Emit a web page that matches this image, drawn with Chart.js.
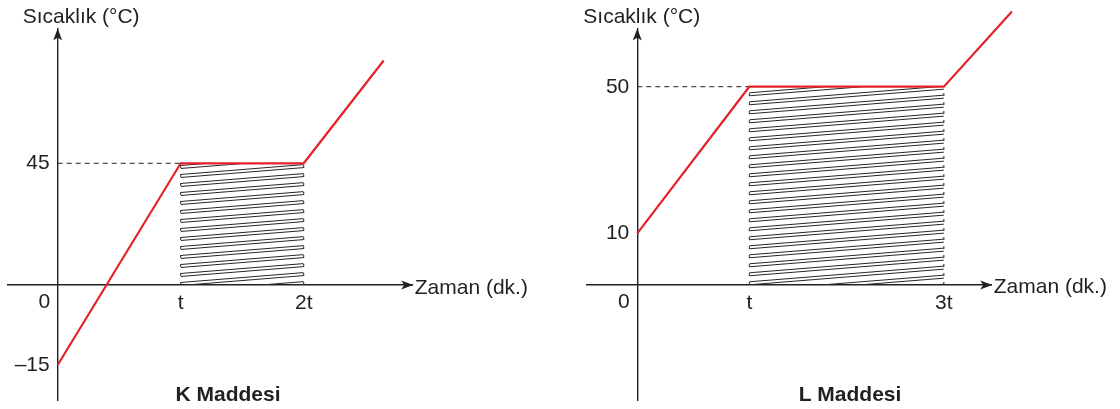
<!DOCTYPE html>
<html>
<head>
<meta charset="utf-8">
<script src="https://cdn.jsdelivr.net/npm/chart.js@4.4.1/dist/chart.umd.min.js"></script>
<style>
  html, body { margin: 0; padding: 0; background: #ffffff; }
  #wrap { position: relative; width: 1120px; height: 409px; overflow: hidden; }
  .cell { position: absolute; top: 0; width: 560px; height: 409px; }
</style>
</head>
<body>
<div id="wrap">
  <div class="cell" style="left:0"><canvas id="chartK" width="560" height="409"></canvas></div>
  <div class="cell" style="left:560px"><canvas id="chartL" width="560" height="409"></canvas></div>
</div>
<script>
// ================================================================
//  DATA  (time in units of t, temperature in °C)
// ================================================================
const kTime = [0, 1, 2, 2.65];
const kTemp = [-15, 45, 45, 83];
const kXTicks = [1, 2];
const kXLabels = ['t', '2t'];
const kYTicks = [-15, 45];
const kYLabels = ['–15', '45'];
const kPlateau = [1, 2];        // hatched interval (start, end)
const kPlateauTemp = 45;

const lTime = [0, 1, 3, 3.7];
const lTemp = [10, 50, 50, 70.5];
const lXTicks = [1, 3];
const lXLabels = ['t', '3t'];
const lYTicks = [10, 50];
const lYLabels = ['10', '50'];
const lPlateau = [1, 3];
const lPlateauTemp = 50;

// ================================================================
//  STYLE
// ================================================================
const INK = '#231f20';
const RED = '#e5222a';
const HATCH = '#262626';
const FONT = "'Liberation Sans', Arial, Helvetica, sans-serif";
const FS = 21;

Chart.defaults.font.family = FONT;
Chart.defaults.font.size = FS;
Chart.defaults.color = INK;

// ----------------------------------------------------------------
//  Linear scale with a piecewise (schematic) mapping: knots map a
//  data value to a linear "drawing" unit, min/max are in that unit
// ----------------------------------------------------------------
class BrokenScale extends Chart.LinearScale {
  static id = 'broken';
  static defaults = {};

  toLin(v) {
    const k = this.options.knots;
    let i = 0;
    while (i < k.length - 2 && v > k[i + 1][0]) i++;
    const a = k[i], b = k[i + 1];
    return a[1] + (v - a[0]) * (b[1] - a[1]) / (b[0] - a[0]);
  }
  fromLin(p) {
    const k = this.options.knots;
    let i = 0;
    while (i < k.length - 2 && p > k[i + 1][1]) i++;
    const a = k[i], b = k[i + 1];
    return a[0] + (p - a[1]) * (b[0] - a[0]) / (b[1] - a[1]);
  }
  getPixelForValue(v) {
    if (v === null || v === undefined || isNaN(v)) return NaN;
    return this.getPixelForDecimal((this.toLin(v) - this._startValue) / this._valueRange);
  }
  getValueForPixel(px) {
    return this.fromLin(this._startValue + this.getDecimalForPixel(px) * this._valueRange);
  }
  // centred axes ignore ticks.padding, so nudge the labels here
  _computeLabelItems(chartArea) {
    const items = super._computeLabelItems(chartArea);
    const [dx, dy] = this.options.labelShift || [0, 0];
    items.forEach(it => {
      const t = it.options.translation;
      it.options.translation = [t[0] + dx, t[1] + dy];
    });
    return items;
  }
}
Chart.register(BrokenScale);

function noPadding(s) {
  s.paddingTop = s.paddingBottom = s.paddingLeft = s.paddingRight = 0;
}

function hatchPattern() {
  const W = 112, D = 9;
  const s = D / W;
  const c = document.createElement('canvas');
  c.width = W; c.height = D;
  const g = c.getContext('2d');
  g.strokeStyle = HATCH;
  g.lineWidth = 1;
  [0, 3].forEach(off => {
    for (let k = -1; k <= 2; k++) {
      const y0 = off + k * D;
      g.beginPath();
      g.moveTo(-1, y0 + s);
      g.lineTo(W + 1, y0 - D - s);
      g.stroke();
    }
  });
  return g.createPattern(c, 'repeat');
}

function arrowHead(ctx, x, y, dir) {
  // dir: 'right' or 'up'; tip at (x, y)
  const L = 12, H = 4.5, N = 3;
  ctx.save();
  ctx.translate(x, y);
  if (dir === 'up') ctx.rotate(-Math.PI / 2);
  ctx.beginPath();
  ctx.moveTo(0, 0);
  ctx.lineTo(-L, -H);
  ctx.lineTo(-L + N, 0);
  ctx.lineTo(-L, H);
  ctx.closePath();
  ctx.fillStyle = INK;
  ctx.fill();
  ctx.restore();
}

const decorPlugin = {
  id: 'decor',
  afterDraw(chart, args, opts) {
    const { ctx, chartArea } = chart;
    const xs = chart.scales.x, ys = chart.scales.y;
    const ox = xs.getPixelForValue(0);
    const oy = ys.getPixelForValue(0);

    arrowHead(ctx, chartArea.right + 0.5, oy, 'right');
    arrowHead(ctx, ox, chartArea.top - 0.5, 'up');

    ctx.save();
    ctx.fillStyle = INK;
    ctx.font = FS + 'px ' + FONT;
    ctx.textBaseline = 'alphabetic';

    // shared origin label
    ctx.textAlign = 'right';
    ctx.fillText('0', ox - 7.5, oy + 23);

    // axis titles
    ctx.textAlign = 'left';
    ctx.fillText('Zaman (dk.)', chartArea.right + 2, oy + 8.5);
    ctx.fillText('Sıcaklık (°C)', opts.yTitleX, 23);

    // panel caption
    ctx.font = 'bold ' + FS + 'px ' + FONT;
    ctx.textAlign = 'center';
    ctx.fillText(opts.caption, opts.captionX, 401);
    ctx.restore();
  }
};

function makeChart(id, cfg) {
  const pts = cfg.time.map((t, i) => ({ x: t, y: cfg.temp[i] }));
  const p0 = cfg.plateau[0], p1 = cfg.plateau[1], pT = cfg.plateauTemp;

  const datasets = [
    { // heating curve
      data: pts, borderColor: RED, borderWidth: 2.2, clip: false, order: 0,
      borderJoinStyle: 'miter'
    },
    { // hatched melting interval
      data: [{ x: p0, y: pT }, { x: p1, y: pT }],
      borderWidth: 0, borderColor: 'rgba(0,0,0,0)',
      backgroundColor: hatchPattern(), fill: 'origin', order: 3
    },
    { // dashed guide to the y axis
      data: [{ x: 0, y: pT }, { x: p0, y: pT }],
      borderColor: INK, borderWidth: 1, borderDash: [5, 4], order: 2
    },
    { data: [{ x: p0, y: 0 }, { x: p0, y: pT }], borderColor: HATCH, borderWidth: 1, borderDash: [3, 6], order: 2 },
    { data: [{ x: p1, y: 0 }, { x: p1, y: pT }], borderColor: HATCH, borderWidth: 1, borderDash: [3, 6], order: 2 }
  ];

  return new Chart(document.getElementById(id), {
    type: 'line',
    data: { datasets },
    options: {
      responsive: false,
      animation: false,
      events: [],
      devicePixelRatio: 1,
      layout: { autoPadding: false, padding: cfg.padding },
      elements: { point: { radius: 0 }, line: { tension: 0 } },
      plugins: {
        legend: { display: false },
        tooltip: { enabled: false },
        title: { display: false },
        decor: { caption: cfg.caption, captionX: cfg.captionX, yTitleX: cfg.yTitleX }
      },
      scales: {
        x: {
          type: 'broken', knots: cfg.xKnots, min: cfg.xRange[0], max: cfg.xRange[1],
          bounds: 'data', position: { y: 0 }, labelShift: [0, 0],
          grid: { display: false, drawTicks: false },
          border: { display: true, color: INK, width: 1.4 },
          afterBuildTicks: s => { s.ticks = cfg.xTicks.map(v => ({ value: v })); },
          afterFit: noPadding,
          ticks: { autoSkip: false, maxRotation: 0, padding: 6, color: INK,
                   callback: (v, i) => cfg.xLabels[i] }
        },
        y: {
          type: 'broken', knots: cfg.yKnots, min: cfg.yRange[0], max: cfg.yRange[1],
          bounds: 'data', position: { x: 0 }, labelShift: [-8, 0],
          grid: { display: false, drawTicks: false },
          border: { display: true, color: INK, width: 1.4 },
          afterBuildTicks: s => { s.ticks = cfg.yTicks.map(v => ({ value: v })); },
          afterFit: noPadding,
          ticks: { autoSkip: false, padding: 0, color: INK,
                   callback: (v, i) => cfg.yLabels[i] }
        }
      }
    },
    plugins: [decorPlugin]
  });
}

makeChart('chartK', {
  time: kTime, temp: kTemp, plateau: kPlateau, plateauTemp: kPlateauTemp,
  xTicks: kXTicks, xLabels: kXLabels, yTicks: kYTicks, yLabels: kYLabels,
  xKnots: [[0, 0], [1, 1]], xRange: [-0.404, 2.886],
  yKnots: [[-15, -15], [0, 0], [45, 22.82]], yRange: [-21.56, 48.0],
  padding: { left: 8, right: 147.3, top: 29, bottom: 9 },
  caption: 'K Maddesi', captionX: 228, yTitleX: 22.7
});

makeChart('chartL', {
  time: lTime, temp: lTemp, plateau: lPlateau, plateauTemp: lPlateauTemp,
  xTicks: lXTicks, xLabels: lXLabels, yTicks: lYTicks, yLabels: lYLabels,
  xKnots: [[0, 0], [1, 1], [3, 2.737]], xRange: [-0.449, 3.164],
  yKnots: [[0, 0], [10, 10], [50, 38.38]], yRange: [-22.26, 49.55],
  padding: { left: 27, right: 128.3, top: 29, bottom: 9 },
  caption: 'L Maddesi', captionX: 290, yTitleX: 23.3
});
</script>
</body>
</html>
